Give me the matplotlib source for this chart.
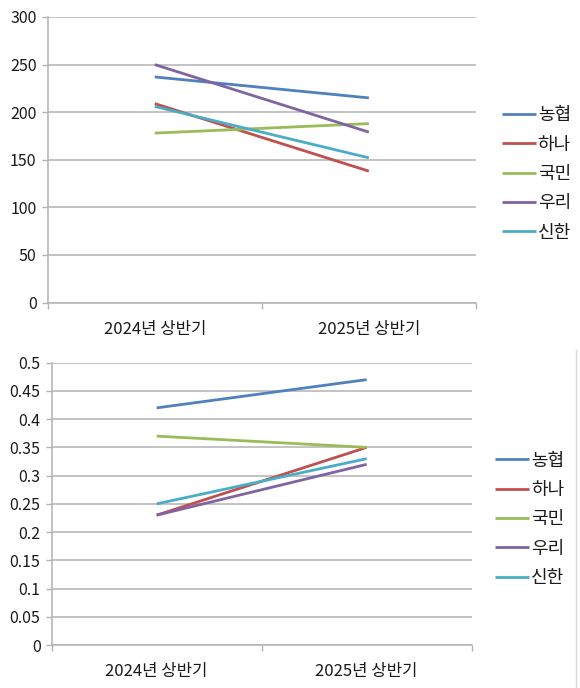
import matplotlib.pyplot as plt
from matplotlib.lines import Line2D

plt.rcParams['font.family'] = ['Noto Sans CJK KR', 'DejaVu Sans']

periods = ["2024년 상반기", "2025년 상반기"]
banks = ["농협", "하나", "국민", "우리", "신한"]
colors = ["#4F81BD", "#C0504D", "#9BBB59", "#8064A2", "#4BACC6"]

# top chart values
top_values = {
    "농협": [237, 215],
    "하나": [209, 138],
    "국민": [178, 188],
    "우리": [250, 179],
    "신한": [206, 152],
}
top_ticks = [0, 50, 100, 150, 200, 250, 300]

# bottom chart values
bottom_values = {
    "농협": [0.42, 0.47],
    "하나": [0.23, 0.35],
    "국민": [0.37, 0.35],
    "우리": [0.23, 0.32],
    "신한": [0.25, 0.33],
}
bottom_ticks = [0, 0.05, 0.1, 0.15, 0.2, 0.25, 0.3, 0.35, 0.4, 0.45, 0.5]
bottom_labels = ["0", "0.05", "0.1", "0.15", "0.2", "0.25", "0.3", "0.35", "0.4", "0.45", "0.5"]

GRID = "#b3b3b3"
TEXT = "#1a1a1a"

fig = plt.figure(figsize=(5.8, 6.88), dpi=100)


def style_axes(ax, values, ticks, labels, ylim):
    x = list(range(len(periods)))
    for bank, color in zip(banks, colors):
        ax.plot(x, values[bank], color=color, lw=2.0, label=bank,
                solid_capstyle="butt", zorder=3)
    ax.set_xlim(-0.5, len(periods) - 0.5)
    ax.set_ylim(*ylim)
    ax.set_yticks(ticks)
    ax.set_yticklabels(labels)
    ax.set_xticks(x)
    ax.set_xticklabels(periods)
    ax.set_xticks([-0.5, 0.5, 1.5], minor=True)
    ax.tick_params(axis="x", which="major", length=0, pad=13, labelsize=12, labelcolor=TEXT)
    ax.tick_params(axis="x", which="minor", length=4, width=1, color=GRID)
    ax.tick_params(axis="y", length=4, width=1, color=GRID, labelsize=11.5,
                   labelcolor=TEXT, pad=4)
    ax.grid(axis="y", color=GRID, lw=1.1, zorder=0)
    for side in ["top", "right"]:
        ax.spines[side].set_visible(False)
    for side in ["left", "bottom"]:
        ax.spines[side].set_color(GRID)
        ax.spines[side].set_linewidth(1.1)
    ax.set_axisbelow(True)


ax1 = fig.add_axes([0.0822, 0.5603, 0.7384, 0.4150])
style_axes(ax1, top_values, top_ticks, [str(t) for t in top_ticks], (0, 300))
ax1.legend(loc="center left", bbox_to_anchor=(1.04, 0.45), frameon=False,
           fontsize=13, handlelength=1.85, handletextpad=0.12, labelspacing=0.63,
           borderpad=0, labelcolor=TEXT)

ax2 = fig.add_axes([0.0891, 0.0625, 0.7241, 0.4103])
style_axes(ax2, bottom_values, bottom_ticks, bottom_labels, (0, 0.5))
ax2.legend(loc="center left", bbox_to_anchor=(1.035, 0.445), frameon=False,
           fontsize=13, handlelength=1.85, handletextpad=0.12, labelspacing=0.63,
           borderpad=0, labelcolor=TEXT)

# thin frame edge of the lower chart
fig.add_artist(Line2D([575.5 / 580, 575.5 / 580], [0, 1 - 350 / 688],
                      color="#d9d9d9", lw=1.0))

fig.savefig("out.png", dpi=100, facecolor="white")
